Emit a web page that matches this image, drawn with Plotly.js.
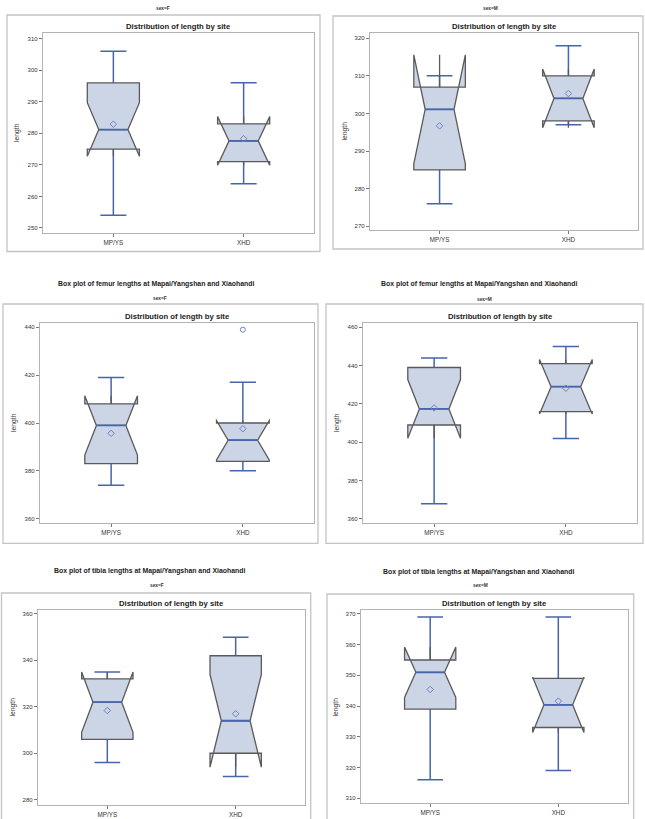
<!DOCTYPE html>
<html>
<head>
<meta charset="utf-8">
<script src="https://cdn.plot.ly/plotly-3.0.1.min.js"></script>
<style>html,body{margin:0;padding:0;background:#fff;}#chart{width:645px;height:819px;}</style>
</head>
<body>
<div id="chart"></div>
<script>
// ---------------- data ----------------
const sites = ['MP/YS', 'XHD'];
const panelSex = ['F', 'M', 'F', 'M', 'F', 'M'];
const panelBone = ['', '', 'femur', 'femur', 'tibia', 'tibia'];
// per panel: [MP/YS, XHD]
const q1Vals      = [[275, 271], [285, 298], [383, 384], [409, 416], [306, 300], [339, 333]];
const medianVals  = [[281.2, 277.6], [301.1, 304.0], [399.0, 392.8], [417.4, 429.0], [322, 314], [351, 340.4]];
const q3Vals      = [[296, 283], [307, 310], [408, 400], [439, 441], [332, 342], [355, 349]];
const lowerWhisk  = [[254, 264], [276, 297], [374, 380], [368, 402], [296, 290], [316, 319]];
const upperWhisk  = [[306, 296], [310, 318], [419, 417], [444, 450], [335, 350], [369, 369]];
const meanVals    = [[282.9, 278.3], [296.7, 305.3], [395.7, 397.6], [417.9, 428.2], [318.4, 317.0], [345.4, 341.6]];
const notchHalf   = [[8.5, 7.7], [14.5, 7.8], [12.4, 8.2], [15.3, 14.2], [13, 20], [8.2, 9]];
const outlierPanel = [2];
const outlierSite  = ['XHD'];
const outlierValue = [439];
const yTickStep = [10, 10, 20, 20, 20, 10];

// ---------------- styles / geometry ----------------
const W = 645, H = 819;
const px = x => x / W, py = y => 1 - y / H;
const FONT = '"Liberation Sans", Arial, sans-serif';
const BLUE = '#4764ad', MEANBLUE = '#6f82bf', FILL = '#cbd5e6', OUTLINE = '#5a5a5a';
const BOXW = 0.4, NOTCHW = 0.22, CAPW = 0.2;
const panels = [
  {x0: 43,  x1: 314,   y0: 33,  y1: 233, yr: [248.4, 311.8], frame: [7, 15, 320, 251.5]},
  {x0: 370, x1: 638,   y0: 33,  y1: 230, yr: [269.0, 321.4], frame: [333, 16, 643, 249]},
  {x0: 40,  x1: 314,   y0: 323, y1: 523, yr: [358.2, 441.8], frame: [3, 304, 318, 543.3]},
  {x0: 363, x1: 637,   y0: 323, y1: 523, yr: [357.9, 462.2], frame: [326, 304, 643, 543.3]},
  {x0: 38,  x1: 305,   y0: 610, y1: 805, yr: [277.7, 361.7], frame: [1.5, 593, 310.7, 840]},
  {x0: 361, x1: 627.5, y0: 610, y1: 803, yr: [308.4, 371.3], frame: [327, 594, 633.7, 840]}
];
const sexPos = [[163, 9], [490, 9], [160, 298], [484, 299], [157, 585], [481, 585]];
const rowTitlePos = [null, null, [156, 284], [479, 284], [150, 571], [479, 572]];

const traces = [];
const layout = {
  width: W, height: H, margin: {l: 0, r: 0, t: 0, b: 0},
  paper_bgcolor: '#fff', plot_bgcolor: '#fff', showlegend: false,
  font: {family: FONT, color: '#333'},
  boxmode: 'overlay', shapes: [], annotations: []
};

panels.forEach((p, i) => {
  const n = i === 0 ? '' : String(i + 1);
  const xa = 'x' + n, ya = 'y' + n;
  const xKey = 'xaxis' + n, yKey = 'yaxis' + n;

  // whiskers with caps (blue), hidden inside box by the filled box drawn later
  traces.push({
    type: 'box', xaxis: xa, yaxis: ya, x: sites,
    q1: medianVals[i], median: medianVals[i], q3: medianVals[i],
    lowerfence: lowerWhisk[i], upperfence: upperWhisk[i],
    width: CAPW, whiskerwidth: 1, boxpoints: false,
    line: {color: BLUE, width: 1.5}, fillcolor: 'rgba(0,0,0,0)', hoverinfo: 'skip'
  });
  // notched box (grey outline, filled)
  traces.push({
    type: 'box', xaxis: xa, yaxis: ya, x: sites,
    q1: q1Vals[i], median: medianVals[i], q3: q3Vals[i],
    lowerfence: q1Vals[i], upperfence: q3Vals[i],
    notched: true, notchspan: notchHalf[i], notchwidth: NOTCHW,
    width: BOXW, whiskerwidth: 0, boxpoints: false,
    line: {color: OUTLINE, width: 1.3}, fillcolor: FILL
  });
  // median line (blue)
  traces.push({
    type: 'box', xaxis: xa, yaxis: ya, x: sites,
    q1: medianVals[i], median: medianVals[i], q3: medianVals[i],
    lowerfence: medianVals[i], upperfence: medianVals[i],
    width: BOXW * (1 - 2 * NOTCHW), whiskerwidth: 0, boxpoints: false,
    line: {color: BLUE, width: 1.8}, fillcolor: 'rgba(0,0,0,0)', hoverinfo: 'skip'
  });
  // means
  traces.push({
    type: 'scatter', mode: 'markers', xaxis: xa, yaxis: ya, x: sites, y: meanVals[i],
    marker: {symbol: 'diamond-open', size: 5, color: MEANBLUE, line: {width: 1, color: MEANBLUE}}
  });
  // outliers
  const ox = [], oy = [];
  outlierPanel.forEach((pp, k) => { if (pp === i) { ox.push(outlierSite[k]); oy.push(outlierValue[k]); } });
  if (ox.length) {
    traces.push({
      type: 'scatter', mode: 'markers', xaxis: xa, yaxis: ya, x: ox, y: oy,
      marker: {symbol: 'circle-open', size: 5, color: MEANBLUE, line: {width: 1, color: MEANBLUE}}
    });
  }

  layout[xKey] = {
    domain: [px(p.x0), px(p.x1)], anchor: ya, type: 'category',
    categoryorder: 'array', categoryarray: sites,
    range: [-0.54, 1.54], showgrid: false, zeroline: false,
    showline: true, mirror: true, linecolor: '#b3b3b3', linewidth: 1.2,
    ticks: 'outside', ticklen: 3, tickcolor: '#777', tickwidth: 1,
    tickfont: {size: 6.3, color: '#333', family: FONT}
  };
  layout[yKey] = {
    domain: [py(p.y1), py(p.y0)], anchor: xa, range: p.yr,
    dtick: yTickStep[i], tick0: 0, showgrid: false, zeroline: false,
    showline: true, mirror: true, linecolor: '#b3b3b3', linewidth: 1.2,
    ticks: 'outside', ticklen: 3, tickcolor: '#777', tickwidth: 1,
    tickfont: {size: 6, color: '#333', family: FONT}
  };

  // outer panel frame
  const f = p.frame;
  layout.shapes.push({type: 'rect', xref: 'paper', yref: 'paper',
    x0: px(f[0]), x1: px(f[2]), y0: py(f[3]), y1: py(f[1]),
    line: {color: '#c4c4c4', width: 1.3}, fillcolor: 'rgba(0,0,0,0)', layer: 'below'});

  // panel title
  layout.annotations.push({xref: xa + ' domain', yref: ya + ' domain', x: 0.5, y: 1,
    yshift: 6.5, xanchor: 'center', yanchor: 'middle', showarrow: false,
    text: '<b>Distribution of length by site</b>', font: {size: 7.7, color: '#222', family: FONT}});
  // y-axis title
  layout.annotations.push({xref: xa + ' domain', yref: ya + ' domain', x: 0, y: 0.5,
    xshift: -26, xanchor: 'center', yanchor: 'middle', showarrow: false, textangle: -90,
    text: 'length', font: {size: 6.8, color: '#333', family: FONT}});
  // sex label
  layout.annotations.push({xref: 'paper', yref: 'paper', x: px(sexPos[i][0]), y: py(sexPos[i][1]),
    xanchor: 'center', yanchor: 'middle', showarrow: false,
    text: '<b>sex=' + panelSex[i] + '</b>', font: {size: 4.8, color: '#333', family: FONT}});
  // row title
  if (rowTitlePos[i]) {
    layout.annotations.push({xref: 'paper', yref: 'paper', x: px(rowTitlePos[i][0]), y: py(rowTitlePos[i][1]),
      xanchor: 'center', yanchor: 'middle', showarrow: false,
      text: '<b>Box plot of ' + panelBone[i] + ' lengths at Mapai/Yangshan and Xiaohandi</b>',
      font: {size: 6.9, color: '#222', family: FONT}});
  }
});

Plotly.newPlot('chart', traces, layout, {staticPlot: true, displayModeBar: false});
</script>
</body>
</html>
